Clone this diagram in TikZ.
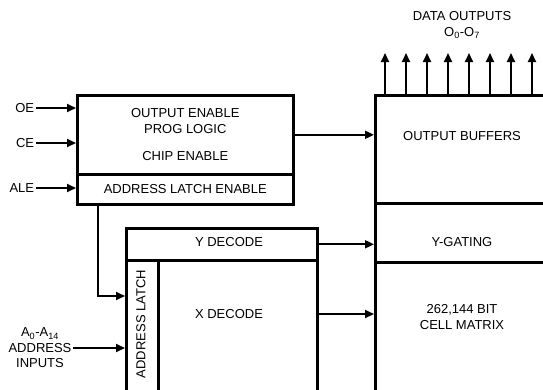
\documentclass[tikz,border=0pt]{standalone}
\usepackage{fontspec}
\setmainfont{Liberation Sans}
\usetikzlibrary{arrows.meta, positioning, calc}
\tikzset{
  every picture/.style={x=1pt, y=-1pt, line width=1.8pt},
  blk/.style={draw, line width=2.6pt, rectangle, inner sep=0pt, anchor=north west},
  sig/.style={-{Triangle[length=9pt, width=8pt]}, line width=1.8pt},
  lbl/.style={font=\fontsize{13}{15.5}\selectfont, align=center, inner sep=1pt},
}
\begin{document}
\begin{tikzpicture}
  \useasboundingbox (0,0) rectangle (543,389);
  \clip (0,0) rectangle (543,389);
  % control block
  \node[blk, lbl, inner sep=0pt, minimum width=216pt, minimum height=79pt] (ctl) at (76,94)
    {OUTPUT ENABLE\\PROG LOGIC\\[12pt]CHIP ENABLE};
  \node[blk, lbl, inner sep=0pt, minimum width=216pt, minimum height=30pt] (ale) at (76,173)
    {ADDRESS LATCH ENABLE};
  % decoders
  \node[blk, minimum width=191pt, minimum height=32pt] (ydec) at (125,227) {};
  \node[blk, minimum width=32pt, minimum height=150pt] (alatch) at (125,259) {};
  \node[blk, minimum width=159pt, minimum height=150pt] (xdec) at (157,259) {};
  \node[lbl] (ytxt) at (229,242) {Y DECODE};
  \node[lbl] (xtxt) at (229,314) {X DECODE};
  \node[lbl, rotate=90] (altxt) at (141,324) {ADDRESS LATCH};
  % memory side
  \node[blk, minimum width=190pt, minimum height=108pt] (obuf) at (374,94) {};
  \node[blk, minimum width=190pt, minimum height=59pt] (ygate) at (374,202) {};
  \node[blk, minimum width=190pt, minimum height=150pt] (cells) at (374,261) {};
  \node[lbl] (obtxt) at (462,136) {OUTPUT BUFFERS};
  \node[lbl] (ygtxt) at (462,242) {Y-GATING};
  \node[lbl] (cmtxt) at (462,317) {262,144 BIT\\CELL MATRIX};
  \node[lbl] (dout) at (462,25) {DATA OUTPUTS\\O\textsubscript{0}-O\textsubscript{7}};
  % inputs
  \node[lbl, anchor=east] (oe) at (36,108) {OE};
  \node[lbl, anchor=east] (ce) at (36,143) {CE};
  \node[lbl, anchor=east] (alein) at (36,188) {ALE};
  \node[lbl] (ain) at (40,348) {A\textsubscript{0}-A\textsubscript{14}\\ADDRESS\\INPUTS};
  \coordinate (tap) at (98,203);
  \coordinate (latchin) at (125,296);
  \draw[sig] (oe.east) -- (oe.east -| ctl.west);
  \draw[sig] (ce.east) -- (ce.east -| ctl.west);
  \draw[sig] (alein.east) -- (alein.east -| ale.west);
  \draw[sig] (ale.south -| tap) |- (latchin);
  \draw[sig] (ain.east) -- (ain.east -| alatch.west);
  \draw[sig] (ctl.east) -- (ctl.east -| obuf.west);
  \draw[sig] (ydec.east) -- (ydec.east -| ygate.west);
  \draw[sig] (xtxt -| xdec.east) -- (xtxt -| cells.west);
  \foreach \i in {0,...,7}
    \draw[sig] ([xshift={11pt+21pt*\i}]obuf.north west) -- ++(0,-41);
\end{tikzpicture}
\end{document}
